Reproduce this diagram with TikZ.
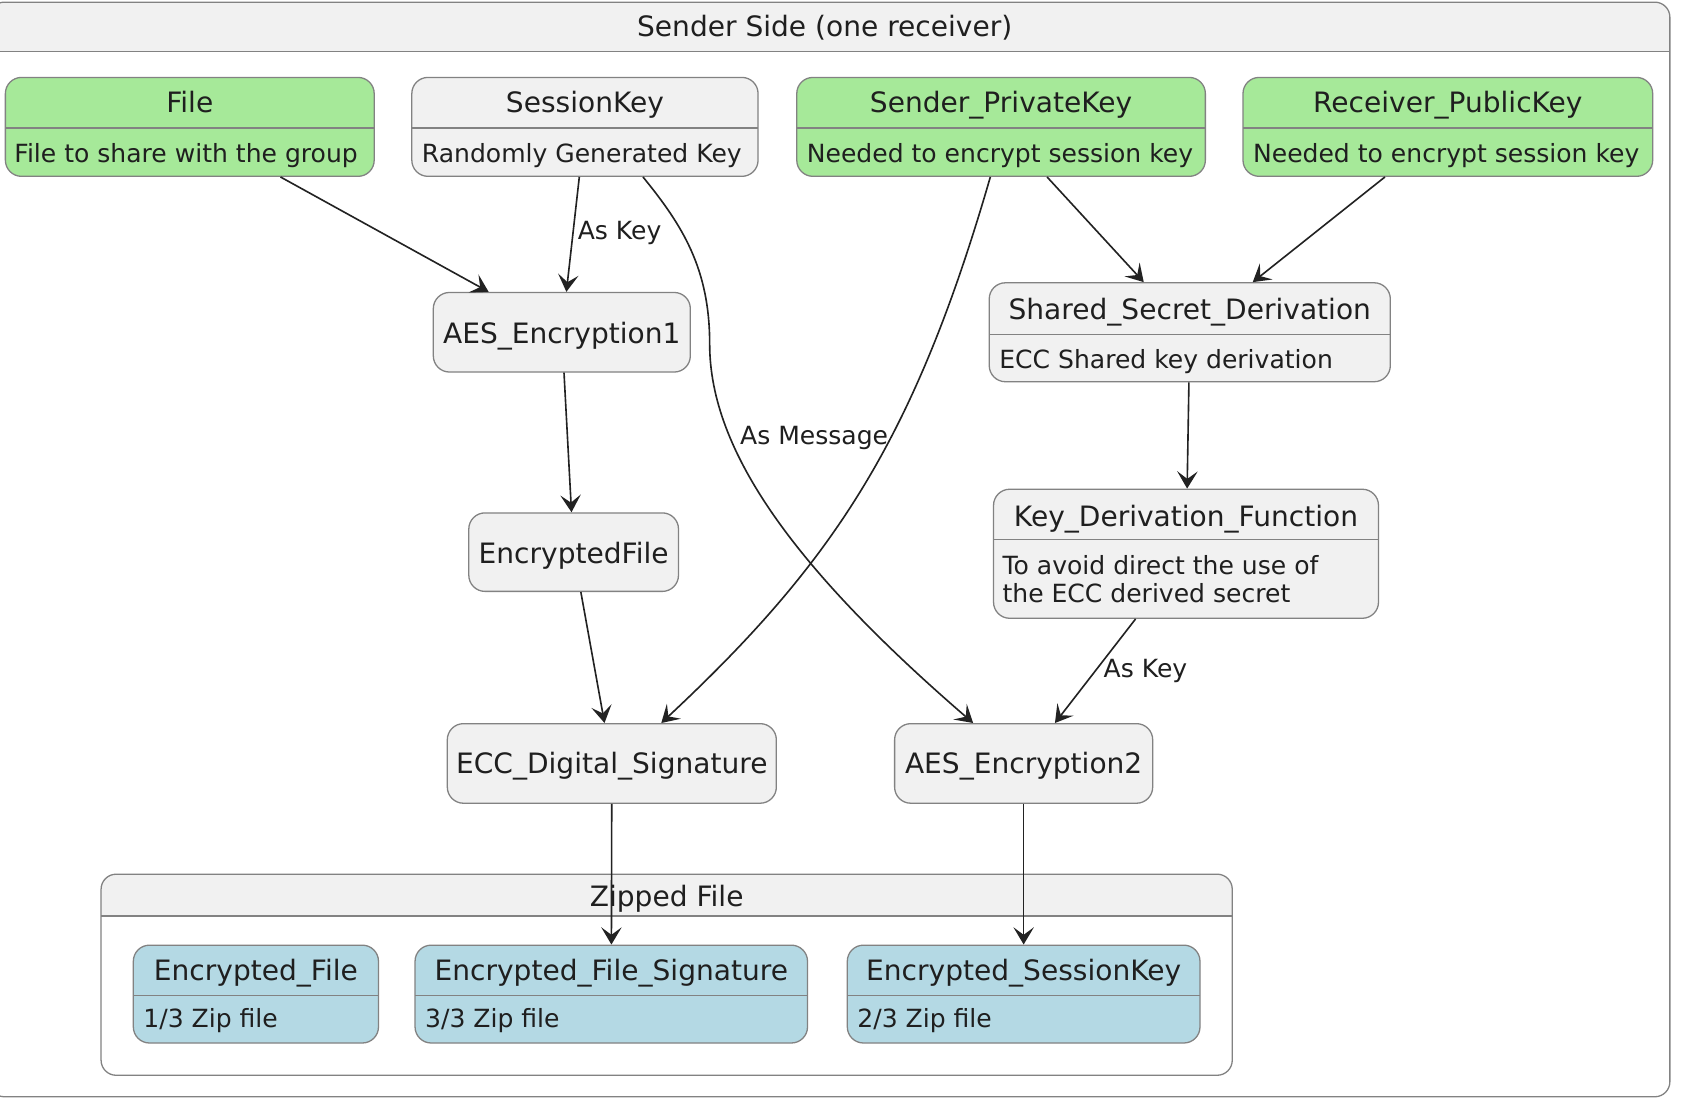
\documentclass[tikz,border=0pt]{standalone}
\usepackage{fontspec}
\setmainfont{DejaVu Sans}
\usetikzlibrary{fit,arrows.meta,calc}
\definecolor{sgreen}{RGB}{166,233,153}
\definecolor{sblue}{RGB}{180,217,228}
\definecolor{sgray}{HTML}{F1F1F1}
\definecolor{sborder}{RGB}{130,130,130}
\definecolor{sedge}{RGB}{34,34,34}
\newcommand{\ttlfont}{\fontsize{13.05}{15.6}\selectfont}
\newcommand{\dscfont}{\fontsize{11.65}{13}\selectfont}
\begin{document}
\begin{tikzpicture}[x=0.5pt,y=-0.5pt,
 sbox/.style={draw=sborder, line width=0.6pt, rounded corners=7.5pt, inner sep=0pt, fill=sgray},
 ttl/.style={font=\ttlfont, inner sep=0pt, anchor=base, text=black!88},
 dsc/.style={font=\dscfont, inner sep=0pt, anchor=base west, text=black!88},
 sep/.style={draw=sborder, line width=0.6pt},
 conn/.style={draw=sedge, line width=0.75pt, -{Stealth[length=8pt,width=9.5pt,inset=3.5pt]}},
 lbl/.style={font=\dscfont, inner sep=0pt, anchor=base west, text=black!88}]

\useasboundingbox (0,0) rectangle (1568,1032);

% outer container
\node[fit={(-10,2) (1553,1020)}, inner sep=0pt, fill=white] (outer) {};
\begin{scope}
  \clip[rounded corners=7pt] (-10,2) rectangle (1553,1020);
  \fill[sgray] (-10,2) rectangle (1553,48);
\end{scope}
\draw[sep, rounded corners=7pt] (-10,2) rectangle (1553,1020);
\draw[sep] (-10,48) -- (1553,48);
\node[ttl] (outert) at (767,33.5) {Sender Side (one receiver)};

% zipped container
\node[fit={(94,813) (1146,1000)}, inner sep=0pt, fill=white] (zip) {};
\begin{scope}
  \clip[rounded corners=7pt] (94,813) rectangle (1146,1000);
  \fill[sgray] (94,813) rectangle (1146,852);
\end{scope}
\draw[sep, rounded corners=7pt] (94,813) rectangle (1146,1000);
\draw[sep] (94,852) -- (1146,852);
\node[ttl] (zipt) at (620,843.5) {Zipped File};

% top row
\node[sbox, fill=sgreen, fit={(5,72) (348,164)}] (file) {};
\draw[sep] (5,119) -- (348,119);
\node[ttl] (filet) at (176.5,104.5) {File};
\node[dsc] (filed) at (13,151) {File to share with the group};

\node[sbox, fit={(383,72) (705,164)}] (sk) {};
\draw[sep] (383,119) -- (705,119);
\node[ttl] (skt) at (544,104.5) {SessionKey};
\node[dsc] (skd) at (392,151) {Randomly Generated Key};

\node[sbox, fill=sgreen, fit={(741,72) (1121,164)}] (spk) {};
\draw[sep] (741,119) -- (1121,119);
\node[ttl] (spkt) at (931,104.5) {Sender\_PrivateKey};
\node[dsc] (spkd) at (750,151) {Needed to encrypt session key};

\node[sbox, fill=sgreen, fit={(1156,72) (1537,164)}] (rpk) {};
\draw[sep] (1156,119) -- (1537,119);
\node[ttl] (rpkt) at (1346.5,104.5) {Receiver\_PublicKey};
\node[dsc] (rpkd) at (1165,151) {Needed to encrypt session key};

% middle
\node[sbox, fit={(403,272) (642,346)}] (aes1) {};
\node[ttl] (aes1t) at (522.5,319.5) {AES\_Encryption1};

\node[sbox, fit={(920,263) (1293,355)}] (ssd) {};
\draw[sep] (920,311) -- (1293,311);
\node[ttl] (ssdt) at (1106.5,297.5) {Shared\_Secret\_Derivation};
\node[dsc] (ssdd) at (929,343) {ECC Shared key derivation};

\node[sbox, fit={(436,477) (631,550)}] (ef) {};
\node[ttl] (eft) at (533.5,524.5) {EncryptedFile};

\node[sbox, fit={(924,455) (1282,575)}] (kdf) {};
\draw[sep] (924,502) -- (1282,502);
\node[ttl] (kdft) at (1103,489.5) {Key\_Derivation\_Function};
\node[dsc] (kdfd1) at (932,534) {To avoid direct the use of};
\node[dsc] (kdfd2) at (932,560) {the ECC derived secret};

\node[sbox, fit={(416,673) (722,747)}] (ecc) {};
\node[ttl] (ecct) at (569,719.5) {ECC\_Digital\_Signature};

\node[sbox, fit={(832,673) (1072,747)}] (aes2) {};
\node[ttl] (aes2t) at (952,719.5) {AES\_Encryption2};

% bottom
\node[sbox, fill=sblue, fit={(124,879) (352,970)}] (encf) {};
\draw[sep] (124,926) -- (352,926);
\node[ttl] (encft) at (238,911.5) {Encrypted\_File};
\node[dsc] (encfd) at (133,956) {1/3 Zip file};

\node[sbox, fill=sblue, fit={(386,879) (751,970)}] (efs) {};
\draw[sep] (386,926) -- (751,926);
\node[ttl] (efst) at (568.5,911.5) {Encrypted\_File\_Signature};
\node[dsc] (efsd) at (395,956) {3/3 Zip file};

\node[sbox, fill=sblue, fit={(788,879) (1116,970)}] (esk) {};
\draw[sep] (788,926) -- (1116,926);
\node[ttl] (eskt) at (952,911.5) {Encrypted\_SessionKey};
\node[dsc] (eskd) at (797,956) {2/3 Zip file};

% connectors
\draw[conn] (file) -- (aes1);
\draw[conn] (sk) -- (aes1);
\draw[conn] ($(sk.south)+(54,0)$) .. controls (635,210) and (660,250) .. (660,320)
   .. controls (660,420) and (740,530) .. ($(aes2.north)+(-47,0)$);
\draw[conn] ($(spk.south)+(-10,0)$) .. controls (850,410) and (775,523) .. ($(ecc.north)+(46,0)$);
\draw[conn] (spk) -- (ssd);
\draw[conn] (rpk) -- (ssd);
\draw[conn] (ssd) -- (kdf);
\draw[conn] (kdf) -- (aes2);
\draw[conn] (aes1) -- (ef);
\draw[conn] (ef) -- (ecc);
\draw[conn] (ecc) -- (efs);
\draw[conn] (aes2) -- (esk);

\node[lbl] (l1) at (537,222.5) {As Key};
\node[lbl] (l2) at (688,413.5) {As Message};
\node[lbl] (l3) at (1026,630) {As Key};
\end{tikzpicture}
\end{document}
